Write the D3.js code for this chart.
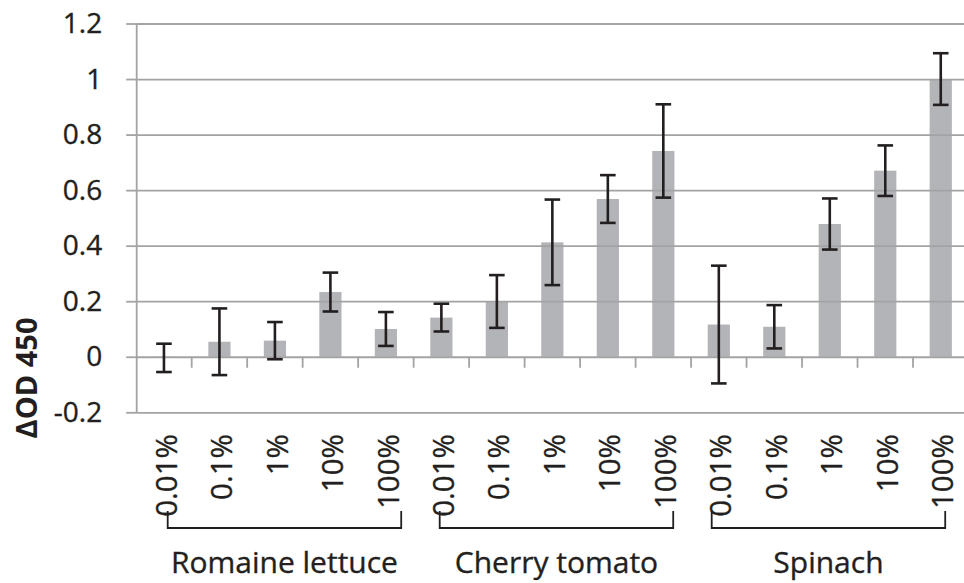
<!DOCTYPE html>
<html>
<head>
<meta charset="utf-8">
<script src="https://cdn.jsdelivr.net/npm/d3@7"></script>
<style>
  html, body { margin: 0; padding: 0; background: #ffffff; }
  svg { display: block; }
  text { font-family: "Open Sans", "Noto Sans", sans-serif; fill: #231f20; stroke: #231f20; stroke-width: 0.35px; }
</style>
</head>
<body>
<svg id="chart" width="964" height="583"></svg>
<script>
// Concentrations tested for each produce sample
const groups = ["Romaine lettuce", "Cherry tomato", "Spinach"];
const doses = ["0.01%", "0.1%", "1%", "10%", "100%"];

// Mean ΔOD 450 per concentration
const romaineMean = [-0.004, 0.054, 0.058, 0.233, 0.100];
const tomatoMean  = [0.141, 0.199, 0.412, 0.568, 0.741];
const spinachMean = [0.116, 0.108, 0.478, 0.670, 1.000];

// Error bar half-widths (±)
const romaineErr = [0.051, 0.120, 0.067, 0.070, 0.061];
const tomatoErr  = [0.050, 0.095, 0.154, 0.086, 0.168];
const spinachErr = [0.212, 0.078, 0.092, 0.091, 0.093];

const yTicks = [-0.2, 0, 0.2, 0.4, 0.6, 0.8, 1, 1.2];
const yTickLabels = ["-0.2", "0", "0.2", "0.4", "0.6", "0.8", "1", "1.2"];
const yTitle = "ΔOD 450";

const means = [romaineMean, tomatoMean, spinachMean];
const errs = [romaineErr, tomatoErr, spinachErr];
const rows = [];
groups.forEach((g, gi) => {
  doses.forEach((d, di) => {
    rows.push({ key: g + "|" + d, group: g, dose: d, mean: means[gi][di], err: errs[gi][di] });
  });
});

const svg = d3.select("#chart");
const plot = { left: 136.2, right: 968.5, top: 23.5, bottom: 412.3 };

const x = d3.scaleBand()
  .domain(rows.map(r => r.key))
  .range([plot.left, plot.right])
  .padding(0);

const y = d3.scaleLinear()
  .domain([-0.2, 1.2])
  .range([plot.bottom, plot.top]);

const gridColor = "#a3a3a5";
const barColor = "#b3b4b7";
const inkColor = "#231f20";

// Bars
const barW = x.step() * 0.4;
svg.append("g")
  .selectAll("rect")
  .data(rows)
  .join("rect")
  .attr("x", d => x(d.key) + x.bandwidth() / 2 - barW / 2)
  .attr("width", barW)
  .attr("y", d => y(Math.max(0, d.mean)))
  .attr("height", d => Math.abs(y(d.mean) - y(0)))
  .attr("fill", barColor);

// Horizontal gridlines (drawn over the bars)
const grid = svg.append("g")
  .attr("transform", `translate(${plot.left},0)`)
  .call(d3.axisLeft(y).tickValues(yTicks).tickSize(-(plot.right - plot.left)).tickFormat(""));
grid.select(".domain").remove();
grid.selectAll("line").attr("stroke", gridColor).attr("stroke-width", 1.8);

// Y axis with outside ticks and labels
const yAxis = svg.append("g")
  .attr("transform", `translate(${plot.left},0)`)
  .call(d3.axisLeft(y)
    .tickValues(yTicks)
    .tickSize(10)
    .tickSizeOuter(0)
    .tickPadding(24)
    .tickFormat((d, i) => yTickLabels[i]));
yAxis.select(".domain").attr("stroke", gridColor).attr("stroke-width", 1.8);
yAxis.selectAll(".tick line").attr("stroke", gridColor).attr("stroke-width", 1.8);
yAxis.selectAll(".tick text")
  .attr("font-family", "Open Sans")
  .attr("font-size", 28)
  .attr("fill", inkColor);

// Category boundary ticks below the zero line
const bounds = rows.slice(1).map(r => x(r.key)).concat([plot.right]);
svg.append("g")
  .selectAll("line")
  .data(bounds)
  .join("line")
  .attr("x1", d => d).attr("x2", d => d)
  .attr("y1", y(0)).attr("y2", y(0) + 11)
  .attr("stroke", gridColor).attr("stroke-width", 1.8);

// Error bars
const capHalf = 7.8;
const eb = svg.append("g").attr("stroke", inkColor).attr("stroke-width", 2.6).attr("fill", "none");
rows.forEach(r => {
  const cx = x(r.key) + x.bandwidth() / 2;
  const y1 = y(r.mean + r.err), y2 = y(r.mean - r.err);
  eb.append("line").attr("x1", cx).attr("x2", cx).attr("y1", y1).attr("y2", y2);
  eb.append("line").attr("x1", cx - capHalf).attr("x2", cx + capHalf).attr("y1", y1).attr("y2", y1);
  eb.append("line").attr("x1", cx - capHalf).attr("x2", cx + capHalf).attr("y1", y2).attr("y2", y2);
});

// Rotated concentration labels
svg.append("g")
  .selectAll("text")
  .data(rows)
  .join("text")
  .attr("transform", d => `translate(${x(d.key) + x.bandwidth() / 2 + 2},434) rotate(-90)`)
  .attr("text-anchor", "end")
  .attr("dy", "0.36em")
  .attr("font-size", 29.5)
  .text(d => d.dose);

// Group brackets and names
const gx = d3.scaleBand()
  .domain(groups)
  .range([plot.left + 31.5, plot.left + 31.5 + 272 * (3 - 0.1415)])
  .paddingInner(0.1415)
  .paddingOuter(0);

const brTop = 511, brBot = 528;
const br = svg.append("g").attr("stroke", inkColor).attr("stroke-width", 1.8).attr("fill", "none");
groups.forEach(g => {
  const x0 = gx(g), x1 = gx(g) + gx.bandwidth();
  br.append("path").attr("d", `M${x0},${brTop}V${brBot}H${x1}V${brTop}`);
});

svg.append("g")
  .selectAll("text")
  .data(groups)
  .join("text")
  .attr("x", d => gx(d) + gx.bandwidth() / 2)
  .attr("y", 573)
  .attr("text-anchor", "middle")
  .attr("font-size", 30)
  .text(d => d);

// Y axis title
svg.append("text")
  .attr("transform", "translate(27,378) rotate(-90)")
  .attr("text-anchor", "middle")
  .attr("dy", "0.36em")
  .attr("font-size", 29)
  .attr("font-weight", "bold")
  .style("stroke-width", "0px")
  .text(yTitle);
</script>
</body>
</html>
